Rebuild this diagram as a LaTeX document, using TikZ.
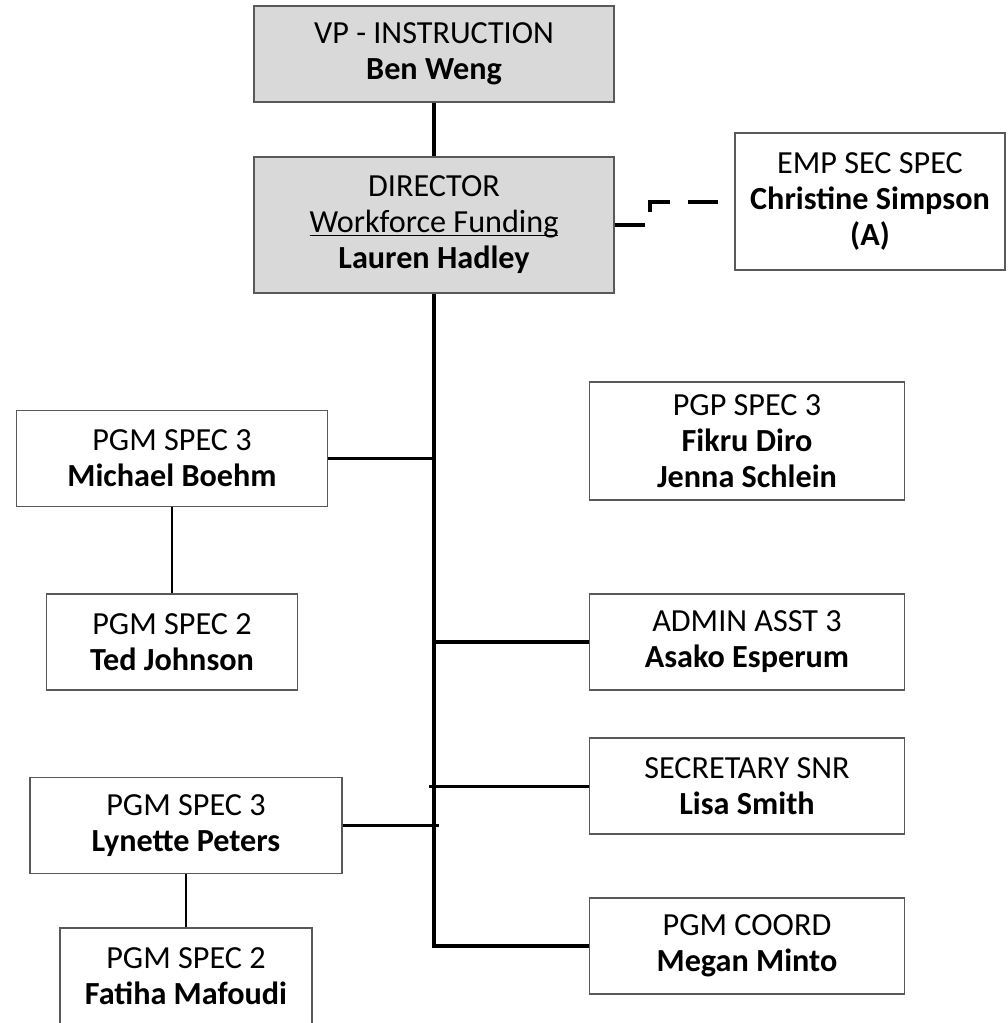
\documentclass[tikz,border=0pt]{standalone}
\usepackage{fontspec}
\setmainfont{Carlito}
\usepackage{tikz}
\usepackage{xcolor}
\definecolor{head-grey}{HTML}{D9D9D9}
\tikzset{
    org-box/.style = {draw=black!65, fill=white, line width=0.75pt, rectangle, align=center, inner sep=0pt, minimum width=157.5pt, minimum height=48pt, font=\fontsize{16.1}{18}\selectfont},
    org-box-head/.style = {org-box, fill=head-grey, minimum width=180pt},
    org-link/.style = {draw=black, line width=1.5pt},
    org-trunk/.style = {draw=black, line width=2.4pt},
}

\begin{document}
\begin{tikzpicture}[x=0.5pt, y=-0.5pt]
\useasboundingbox (0,0) rectangle (1007,1023);
\node [org-box-head] (vp) at (434,54) {VP - INSTRUCTION\\\textbf{Ben Weng}};
\node [org-box-head, minimum height=68pt] (dir) at (434,225) {DIRECTOR\\\underline{\smash{Workforce Funding}}\\\textbf{Lauren Hadley}};
\node [org-box, minimum width=135pt, minimum height=68.5pt] (emp) at (870,201.5) {EMP SEC SPEC\\\textbf{Christine Simpson}\\\textbf{(A)}};
\node [org-box, minimum width=155.5pt] (mike) at (172,458.5) {PGM SPEC 3\\\textbf{Michael Boehm}};
\node [org-box, minimum height=59pt] (pgp) at (747,441) {PGP SPEC 3\\\textbf{Fikru Diro}\\\textbf{Jenna Schlein}};
\node [org-box, minimum width=125.5pt] (ted) at (172,642) {PGM SPEC 2\\\textbf{Ted Johnson}};
\node [org-box] (admin) at (747,642) {ADMIN ASST 3\\\textbf{Asako Esperum}};
\node [org-box] (sec) at (747,786) {SECRETARY SNR\\\textbf{Lisa Smith}};
\node [org-box, minimum width=156pt] (lyn) at (186,825.5) {PGM SPEC 3\\\textbf{Lynette Peters}};
\node [org-box] (coord) at (747,946) {PGM COORD\\\textbf{Megan Minto}};
\node [org-box, minimum width=126pt] (fat) at (186,976) {PGM SPEC 2\\\textbf{Fatiha Mafoudi}};

\coordinate (sec-stub) at (429,786);
\coordinate (lyn-stub) at (439,825.5);
\coordinate (emp-bend) at (650,202);
\draw [org-link, line width=1.8pt] (vp) -- (dir);
\draw [org-trunk] (dir.south) -- (dir.south |- coord.west) -- (coord.west);
\draw [org-link, line width=1.3pt] (mike.east) -- (mike.east -| dir.south);
\draw [org-link, line width=1.8pt] (admin.west -| dir.south) -- (admin.west);
\draw [org-link] (sec-stub) -- (sec.west);
\draw [org-link, line width=1.4pt] (lyn.east) -- (lyn-stub);
\draw [org-link, line width=1.1pt] (mike) -- (ted);
\draw [org-link, line width=1.3pt] (lyn) -- (fat);
\draw [org-link, line width=1.8pt, dash pattern=on 15pt off 9pt] (dir.east) -- (dir.east -| emp-bend) -- (emp-bend) -- (emp.west |- emp-bend);
\end{tikzpicture}
\end{document}
